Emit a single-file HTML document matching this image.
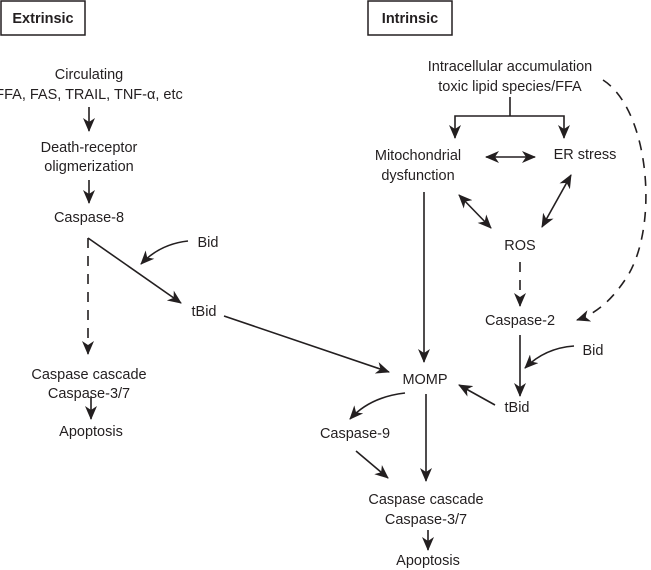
<!DOCTYPE html>
<html><head><meta charset="utf-8"><style>
html,body{margin:0;padding:0;background:#fff;}
svg{display:block;}
text{font-family:"Liberation Sans",sans-serif;font-size:14.5px;fill:#231f20;text-anchor:middle;}
.b{font-weight:bold;}
</style></head><body>
<svg width="651" height="570" viewBox="0 0 651 570" xmlns="http://www.w3.org/2000/svg">
<defs>
<marker id="a" viewBox="0 0 14 12" refX="13" refY="6" markerWidth="14" markerHeight="12" markerUnits="userSpaceOnUse" orient="auto-start-reverse">
<path d="M0,0 L14,6 L0,12 L4,6 Z" fill="#231f20"/>
</marker>
</defs>
<g fill="none" stroke="#231f20" stroke-width="1.5">
<rect x="1" y="1" width="84" height="34"/>
<rect x="368" y="1" width="84" height="34"/>
</g>
<text class="b" x="43" y="23">Extrinsic</text>
<text class="b" x="410" y="23">Intrinsic</text>

<text x="89" y="79">Circulating</text>
<text x="89" y="99">FFA, FAS, TRAIL, TNF-α, etc</text>
<text x="89" y="152">Death-receptor</text>
<text x="89" y="171">oligmerization</text>
<text x="89" y="222">Caspase-8</text>
<text x="208" y="247">Bid</text>
<text x="204" y="316">tBid</text>
<text x="89" y="379">Caspase cascade</text>
<text x="89" y="398">Caspase-3/7</text>
<text x="91" y="436">Apoptosis</text>

<text x="510" y="71">Intracellular accumulation</text>
<text x="510" y="91">toxic lipid species/FFA</text>
<text x="418" y="160">Mitochondrial</text>
<text x="418" y="180">dysfunction</text>
<text x="585" y="159">ER stress</text>
<text x="520" y="250">ROS</text>
<text x="520" y="325">Caspase-2</text>
<text x="593" y="355">Bid</text>
<text x="517" y="412">tBid</text>
<text x="425" y="384">MOMP</text>
<text x="355" y="438">Caspase-9</text>
<text x="426" y="504">Caspase cascade</text>
<text x="426" y="524">Caspase-3/7</text>
<text x="428" y="565">Apoptosis</text>

<g fill="none" stroke="#231f20" stroke-width="1.6">
<line x1="89" y1="107" x2="89" y2="131" marker-end="url(#a)"/>
<line x1="89" y1="180" x2="89" y2="203" marker-end="url(#a)"/>
<line x1="88" y1="238" x2="88" y2="354" stroke-dasharray="10,8" marker-end="url(#a)"/>
<line x1="88" y1="238" x2="181" y2="303" marker-end="url(#a)"/>
<path d="M188,241 Q160,244 141,264" marker-end="url(#a)"/>
<line x1="91" y1="397" x2="91" y2="419" marker-end="url(#a)"/>
<line x1="224" y1="316" x2="389" y2="372" marker-end="url(#a)"/>

<line x1="510" y1="97" x2="510" y2="116"/>
<path d="M455,138 L455,116 L564,116 L564,138" marker-start="url(#a)" marker-end="url(#a)"/>
<line x1="486" y1="157" x2="535" y2="157" marker-start="url(#a)" marker-end="url(#a)"/>
<line x1="459" y1="195" x2="491" y2="228" marker-start="url(#a)" marker-end="url(#a)"/>
<line x1="571" y1="175" x2="542" y2="227" marker-start="url(#a)" marker-end="url(#a)"/>
<line x1="520" y1="262" x2="520" y2="306" stroke-dasharray="10,8" marker-end="url(#a)"/>
<path d="M603,80 C650,110 660,230 625,280 C610,302 595,314 577,320" stroke-dasharray="10,8" marker-end="url(#a)"/>
<line x1="424" y1="192" x2="424" y2="362" marker-end="url(#a)"/>
<line x1="520" y1="335" x2="520" y2="396" marker-end="url(#a)"/>
<path d="M574,346 Q545,348 525,368" marker-end="url(#a)"/>
<line x1="495" y1="405" x2="459" y2="385" marker-end="url(#a)"/>
<line x1="426" y1="394" x2="426" y2="481" marker-end="url(#a)"/>
<path d="M405,393 Q370,397 350,419" marker-end="url(#a)"/>
<line x1="356" y1="451" x2="388" y2="478" marker-end="url(#a)"/>
<line x1="428" y1="530" x2="428" y2="550" marker-end="url(#a)"/>
</g>
</svg>
</body></html>
